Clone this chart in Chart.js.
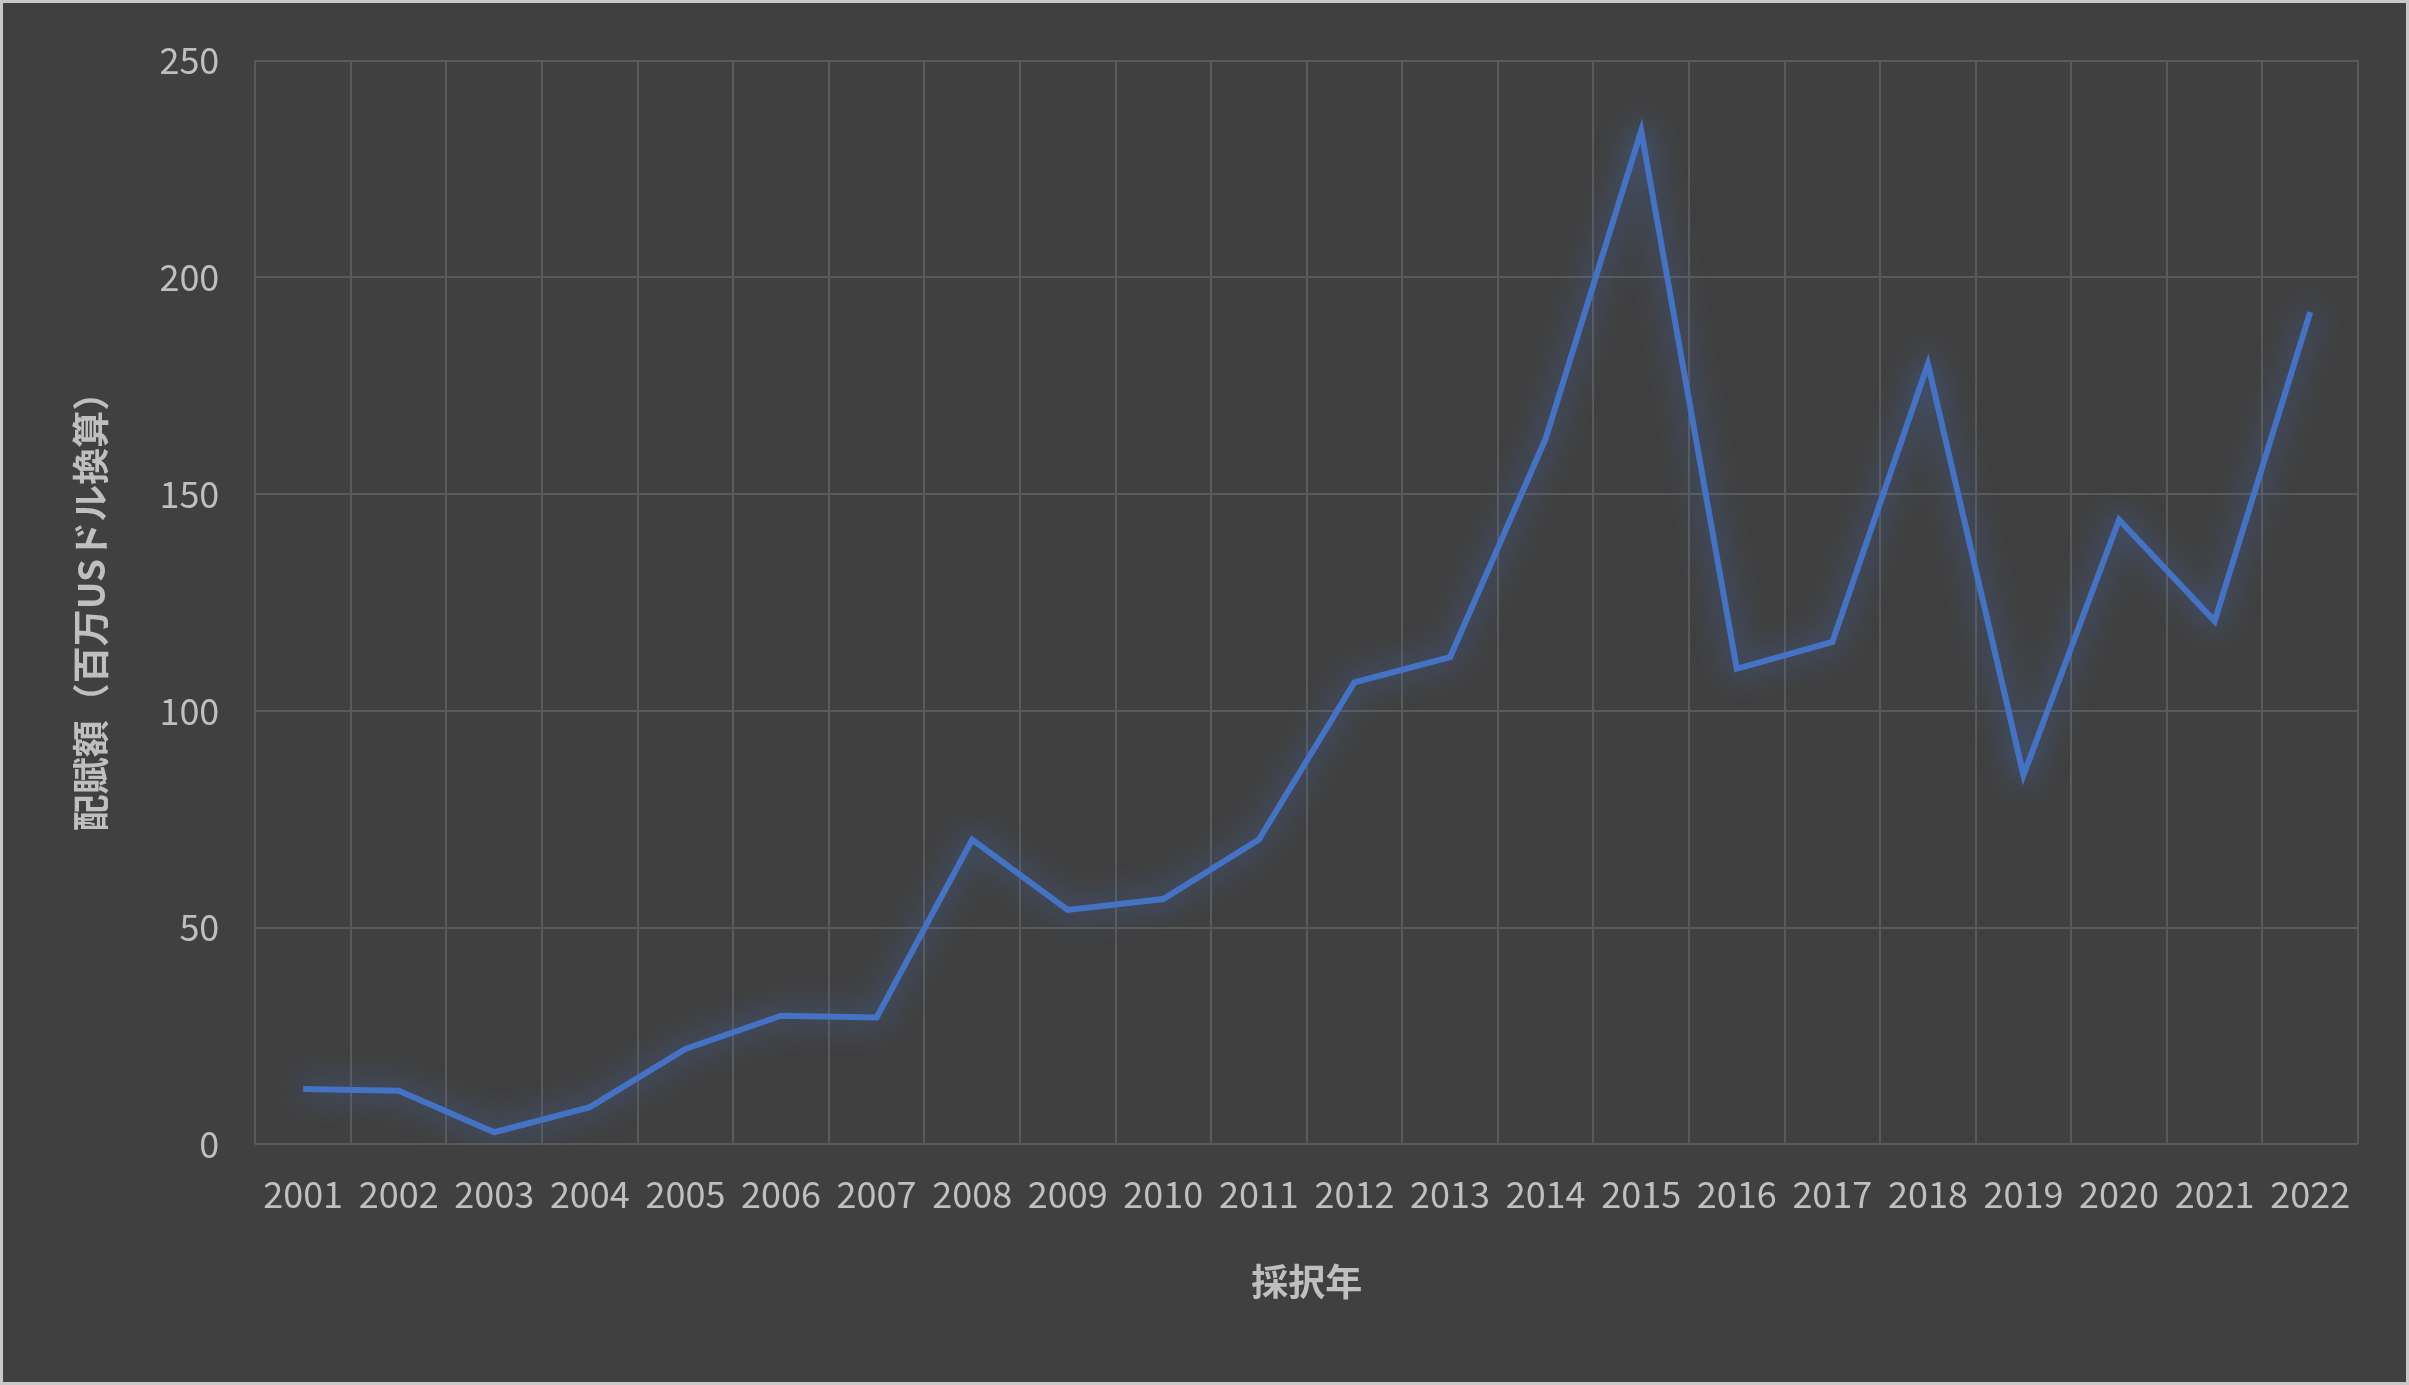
<!DOCTYPE html>
<html>
<head>
<meta charset="utf-8">
<script src="https://cdn.jsdelivr.net/npm/chart.js@4"></script>
<style>
  html, body { margin: 0; padding: 0; background: #404040; }
  #wrap { width: 2409px; height: 1385px; box-sizing: border-box; border: 3px solid #c8c8c8; }
</style>
</head>
<body>
<div id="wrap"><canvas id="chart" width="2403" height="1379"></canvas></div>
<script>
const years = ['2001','2002','2003','2004','2005','2006','2007','2008','2009','2010','2011',
               '2012','2013','2014','2015','2016','2017','2018','2019','2020','2021','2022'];
const amounts = [12.8, 12.4, 2.8, 8.6, 22, 29.7, 29.3, 70.3, 54.1, 56.6, 70.3,
                 106.6, 112.4, 162.8, 233.8, 109.7, 115.9, 180, 85.2, 144.1, 120.7, 192];
const yTitle = '配賦額（百万USドル換算）';
const xTitle = '採択年';

const textColor = '#bfbfbf';
const font = "'Noto Sans CJK JP', 'Noto Sans', sans-serif";

// soft glow under the line
const glow = {
    id: 'glow',
    beforeDatasetDraw(chart) {
        const ctx = chart.ctx;
        ctx.save();
        ctx.shadowColor = 'rgba(68,114,196,0.95)';
        ctx.shadowBlur = 30;
    },
    afterDatasetDraw(chart) {
        chart.ctx.restore();
    }
};

new Chart(document.getElementById('chart').getContext('2d'), {
    type: 'line',
    data: {
        labels: years,
        datasets: [{
            data: amounts,
            borderColor: '#4472c4',
            borderWidth: 6,
            pointRadius: 0,
            tension: 0,
            fill: false
        }]
    },
    plugins: [glow],
    options: {
        responsive: false,
        animation: false,
        layout: { padding: { left: 62, right: 48, top: 22, bottom: 74 } },
        plugins: { legend: { display: false }, tooltip: { enabled: false } },
        scales: {
            x: {
                offset: true,
                grid: { offset: true, color: '#5a5a5a', lineWidth: 2, drawTicks: false },
                border: { display: false },
                ticks: { color: textColor, font: { family: font, size: 36 }, maxRotation: 0, autoSkip: false, padding: 28 },
                title: { display: true, text: xTitle, color: textColor, font: { family: font, size: 37, weight: 'bold' }, padding: { top: 16 } }
            },
            y: {
                min: 0, max: 250,
                ticks: { stepSize: 50, color: textColor, font: { family: font, size: 36 }, padding: 36 },
                grid: { color: '#5a5a5a', lineWidth: 2, drawTicks: false },
                border: { display: false },
                title: { display: true, text: yTitle, color: textColor, font: { family: font, size: 37, weight: 'bold' }, padding: { bottom: 10 } }
            }
        }
    }
});
</script>
</body>
</html>
